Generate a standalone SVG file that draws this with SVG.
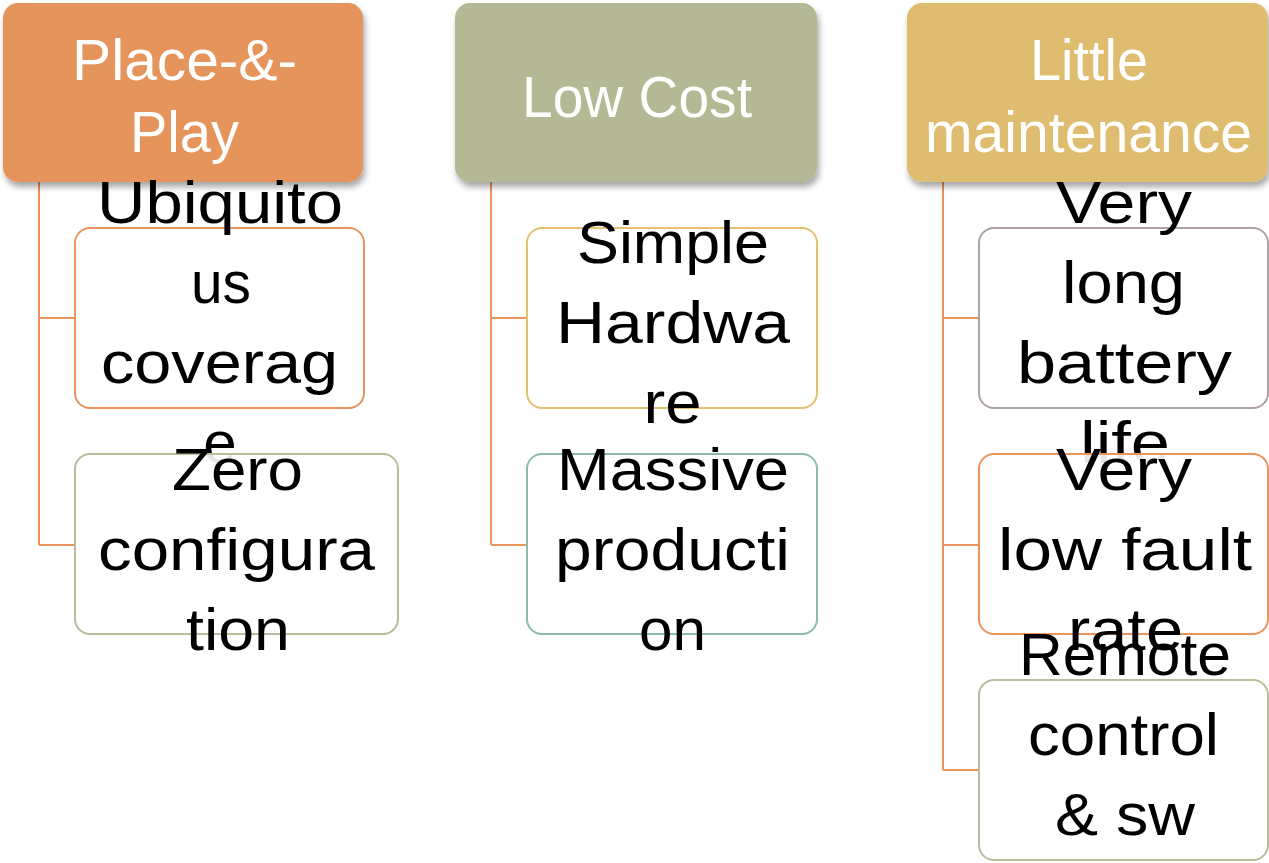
<svg xmlns="http://www.w3.org/2000/svg" width="1269" height="863" viewBox="0 0 1269 863">
  <defs>
    <filter id="shadow" x="-10%" y="-10%" width="125%" height="130%">
      <feDropShadow dx="2" dy="5" stdDeviation="3" flood-color="#000" flood-opacity="0.35"/>
    </filter>
  </defs>
  <style>
    .head { stroke: none; filter: url(#shadow); }
    .head-text { font-family: "Liberation Sans", Arial, sans-serif; font-size: 58px; fill: #ffffff; text-anchor: middle; }
    .child { fill: #ffffff; fill-opacity: 0.9; stroke-width: 2; }
    .child-text { font-family: "Liberation Sans", Arial, sans-serif; font-size: 60px; fill: #000000; text-anchor: middle; }
    .link { fill: none; stroke: #E8945A; stroke-width: 2; }
  </style>
  <rect width="1269" height="863" fill="#ffffff"/>

  <!-- connectors -->
  <g id="connectors">
    <path class="link" d="M39 182 V545 M39 318 H75 M39 545 H75"/>
    <path class="link" d="M491 182 V545 M491 318 H527 M491 545 H527"/>
    <path class="link" d="M943 182 V770 M943 318 H979 M943 545 H979 M943 770 H979"/>
  </g>

  <!-- column 1 -->
  <g id="place-and-play">
    <rect class="head" x="3" y="3" width="360" height="179" rx="15" fill="#E5945B"/>
    <text class="head-text" x="184.5" y="80" textLength="225" lengthAdjust="spacingAndGlyphs">Place-&amp;-</text>
    <text class="head-text" x="184.5" y="152" textLength="109" lengthAdjust="spacingAndGlyphs">Play</text>
  </g>
  <g id="ubiquitous-coverage">
    <rect class="child" x="75" y="228" width="289" height="180" rx="15" stroke="#E8945A"/>
    <text class="child-text" x="220" y="223" textLength="246" lengthAdjust="spacingAndGlyphs">Ubiquito</text>
    <text class="child-text" x="221" y="303" textLength="60" lengthAdjust="spacingAndGlyphs">us</text>
    <text class="child-text" x="219.5" y="383" textLength="237" lengthAdjust="spacingAndGlyphs">coverag</text>
    <text class="child-text" x="220" y="463">e</text>
  </g>
  <g id="zero-configuration">
    <rect class="child" x="75" y="454" width="323" height="180" rx="15" stroke="#B9BC98"/>
    <text class="child-text" x="237.5" y="490" textLength="131" lengthAdjust="spacingAndGlyphs">Zero</text>
    <text class="child-text" x="236.5" y="570" textLength="277" lengthAdjust="spacingAndGlyphs">configura</text>
    <text class="child-text" x="238" y="650" textLength="104" lengthAdjust="spacingAndGlyphs">tion</text>
  </g>

  <!-- column 2 -->
  <g id="low-cost">
    <rect class="head" x="455" y="3" width="362" height="179" rx="15" fill="#B4B894"/>
    <text class="head-text" x="637" y="117" textLength="230" lengthAdjust="spacingAndGlyphs">Low Cost</text>
  </g>
  <g id="simple-hardware">
    <rect class="child" x="527" y="228" width="290" height="180" rx="15" stroke="#E3C171"/>
    <text class="child-text" x="673" y="263" textLength="192" lengthAdjust="spacingAndGlyphs">Simple</text>
    <text class="child-text" x="673" y="343" textLength="234" lengthAdjust="spacingAndGlyphs">Hardwa</text>
    <text class="child-text" x="672.5" y="423" textLength="58" lengthAdjust="spacingAndGlyphs">re</text>
  </g>
  <g id="massive-production">
    <rect class="child" x="527" y="454" width="290" height="180" rx="15" stroke="#8DBAAA"/>
    <text class="child-text" x="673" y="490" textLength="232" lengthAdjust="spacingAndGlyphs">Massive</text>
    <text class="child-text" x="672.5" y="570" textLength="235" lengthAdjust="spacingAndGlyphs">producti</text>
    <text class="child-text" x="672.5" y="650" textLength="67" lengthAdjust="spacingAndGlyphs">on</text>
  </g>

  <!-- column 3 -->
  <g id="little-maintenance">
    <rect class="head" x="907" y="3" width="361" height="179" rx="15" fill="#DFBD6F"/>
    <text class="head-text" x="1089" y="80" textLength="118" lengthAdjust="spacingAndGlyphs">Little</text>
    <text class="head-text" x="1088.5" y="152" textLength="327" lengthAdjust="spacingAndGlyphs">maintenance</text>
  </g>
  <g id="long-battery-life">
    <rect class="child" x="979" y="228" width="289" height="180" rx="15" stroke="#ADA1A6"/>
    <text class="child-text" x="1124" y="223" textLength="136" lengthAdjust="spacingAndGlyphs">Very</text>
    <text class="child-text" x="1123.5" y="303" textLength="123" lengthAdjust="spacingAndGlyphs">long</text>
    <text class="child-text" x="1124.5" y="383" textLength="215" lengthAdjust="spacingAndGlyphs">battery</text>
    <text class="child-text" x="1125" y="463" textLength="90" lengthAdjust="spacingAndGlyphs">life</text>
  </g>
  <g id="low-fault-rate">
    <rect class="child" x="979" y="454" width="289" height="180" rx="15" stroke="#E8945A"/>
    <text class="child-text" x="1124" y="490" textLength="136" lengthAdjust="spacingAndGlyphs">Very</text>
    <text class="child-text" x="1125" y="570" textLength="254" lengthAdjust="spacingAndGlyphs">low fault</text>
    <text class="child-text" x="1125.5" y="650" textLength="115" lengthAdjust="spacingAndGlyphs">rate</text>
  </g>
  <g id="remote-control">
    <rect class="child" x="979" y="680" width="289" height="180" rx="15" stroke="#B9BC98"/>
    <text class="child-text" x="1125" y="675" textLength="212" lengthAdjust="spacingAndGlyphs">Remote</text>
    <text class="child-text" x="1123.5" y="755" textLength="191" lengthAdjust="spacingAndGlyphs">control</text>
    <text class="child-text" x="1125" y="835" textLength="140" lengthAdjust="spacingAndGlyphs">&amp; sw</text>
  </g>
</svg>
